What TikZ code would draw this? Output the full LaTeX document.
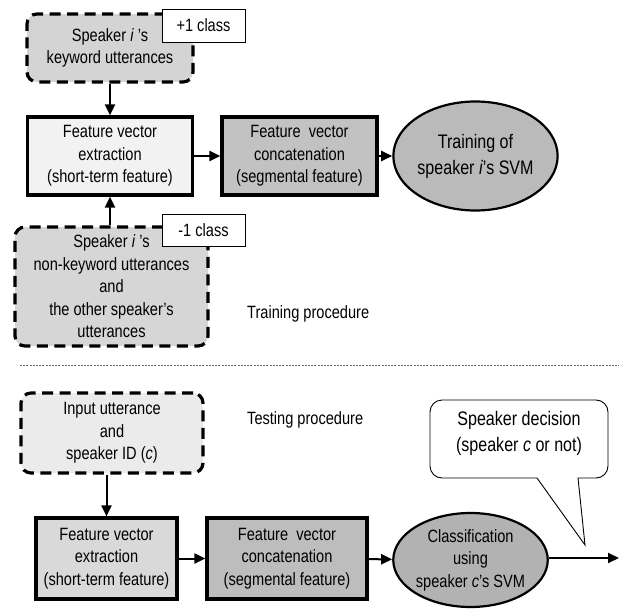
\documentclass[tikz,border=0pt]{standalone}
\usepackage{fontspec}
\setmainfont{Liberation Sans}[FakeStretch=0.82]
\usetikzlibrary{shapes.geometric,arrows.meta}
\newcommand{\fsn}{\fontsize{17.8}{22.5}\selectfont}
\newcommand{\fsb}{\fontsize{19.6}{26}\selectfont}
\begin{document}
\begin{tikzpicture}[x=1pt,y=-1pt,
  dbox/.style={draw, line width=3.2pt, dash pattern=on 11pt off 6.5pt, rounded corners=10pt, align=center, font=\fsn, inner sep=0pt},
  sbox/.style={draw, line width=3.2pt, align=center, font=\fsn, inner sep=0pt},
  tag/.style={draw, line width=0.9pt, fill=white, align=center, font=\fsn, inner sep=0pt},
  oval/.style={draw, ellipse, line width=2.2pt, align=center, inner sep=0pt},
  arr/.style={line width=2pt, -{Triangle[length=11pt,width=10pt]}},
  lab/.style={font=\fsn, anchor=west, inner sep=0pt}]
\useasboundingbox (0,0) rectangle (619,610);
\fill[white] (0,0) rectangle (619,610);
% training
\node[dbox, fill=black!17, minimum width=166pt, minimum height=68pt] (kw) at (110,48) {Speaker \textit{i} 's\\keyword utterances};
\node[tag, minimum width=83pt, minimum height=33pt] (p1) at (203.5,25.5) {+1 class};
\node[sbox, fill=black!5, minimum width=165pt, minimum height=78pt] (ext1) at (110,156) {Feature vector\\extraction\\(short-term feature)};
\node[sbox, fill=black!24, minimum width=155pt, minimum height=78pt] (cat1) at (299.5,156) {Feature\ \ vector\\concatenation\\(segmental feature)};
\node[oval, fill=black!27, minimum width=135pt, minimum height=109pt, font=\fsb] (svm1) at (475.5,156) {Training of\\speaker \textit{i}'s SVM};
\node[dbox, fill=black!16, minimum width=193pt, minimum height=119pt] (neg) at (111.5,286.5) {Speaker \textit{i} 's\\non-keyword utterances\\and\\the other speaker's\\utterances};
\node[tag, minimum width=83pt, minimum height=32pt] (m1) at (203.5,230) {-1 class};
\node[lab] (trl) at (247,314) {Training procedure};
\draw[arr] (kw.south -| ext1.north) -- (ext1.north);
\draw[arr] (neg.north -| ext1.south) -- (ext1.south);
\draw[arr] (ext1) -- (cat1);
\draw[arr] (cat1) -- (svm1);
% separator
\coordinate (sepa) at (20,365);
\coordinate (sepb) at (619,365);
\draw[black!60, line width=0.8pt, dash pattern=on 2pt off 1.2pt] (sepa) -- (sepb);
% testing
\node[dbox, fill=black!8, minimum width=182pt, minimum height=80pt] (in) at (112,433) {Input utterance\\and\\speaker ID (\textit{c})};
\node[lab] (tel) at (247,420) {Testing procedure};
\node[sbox, fill=black!15, minimum width=141pt, minimum height=81pt] (ext2) at (106.5,558.5) {Feature vector\\extraction\\(short-term feature)};
\node[sbox, fill=black!26, minimum width=160pt, minimum height=81pt] (cat2) at (287,558.5) {Feature\ \ vector\\concatenation\\(segmental feature)};
\node[oval, fill=black!30, minimum width=149pt, minimum height=94pt, font=\fsn] (svm2) at (470.5,560) {Classification\\using\\speaker \textit{c}'s SVM};
\coordinate (out) at (619,558);
\draw[arr] (in.south -| ext2.north) -- (ext2.north);
\draw[arr] (ext2) -- (cat2);
\draw[arr] (cat2) -- (svm2);
\draw[arr] (svm2.east |- out) -- (out);
% callout
\draw[line width=0.9pt, fill=white] (537,478) [rounded corners=12pt] -- (430,478) -- (430,400) -- (608,400) -- (608,478) [sharp corners] -- (578,478) -- (585,545) -- cycle;
\node[font=\fsb, align=center, inner sep=0pt] (dec) at (519,433) {Speaker decision\\(speaker \textit{c} or not)};
\end{tikzpicture}
\end{document}
